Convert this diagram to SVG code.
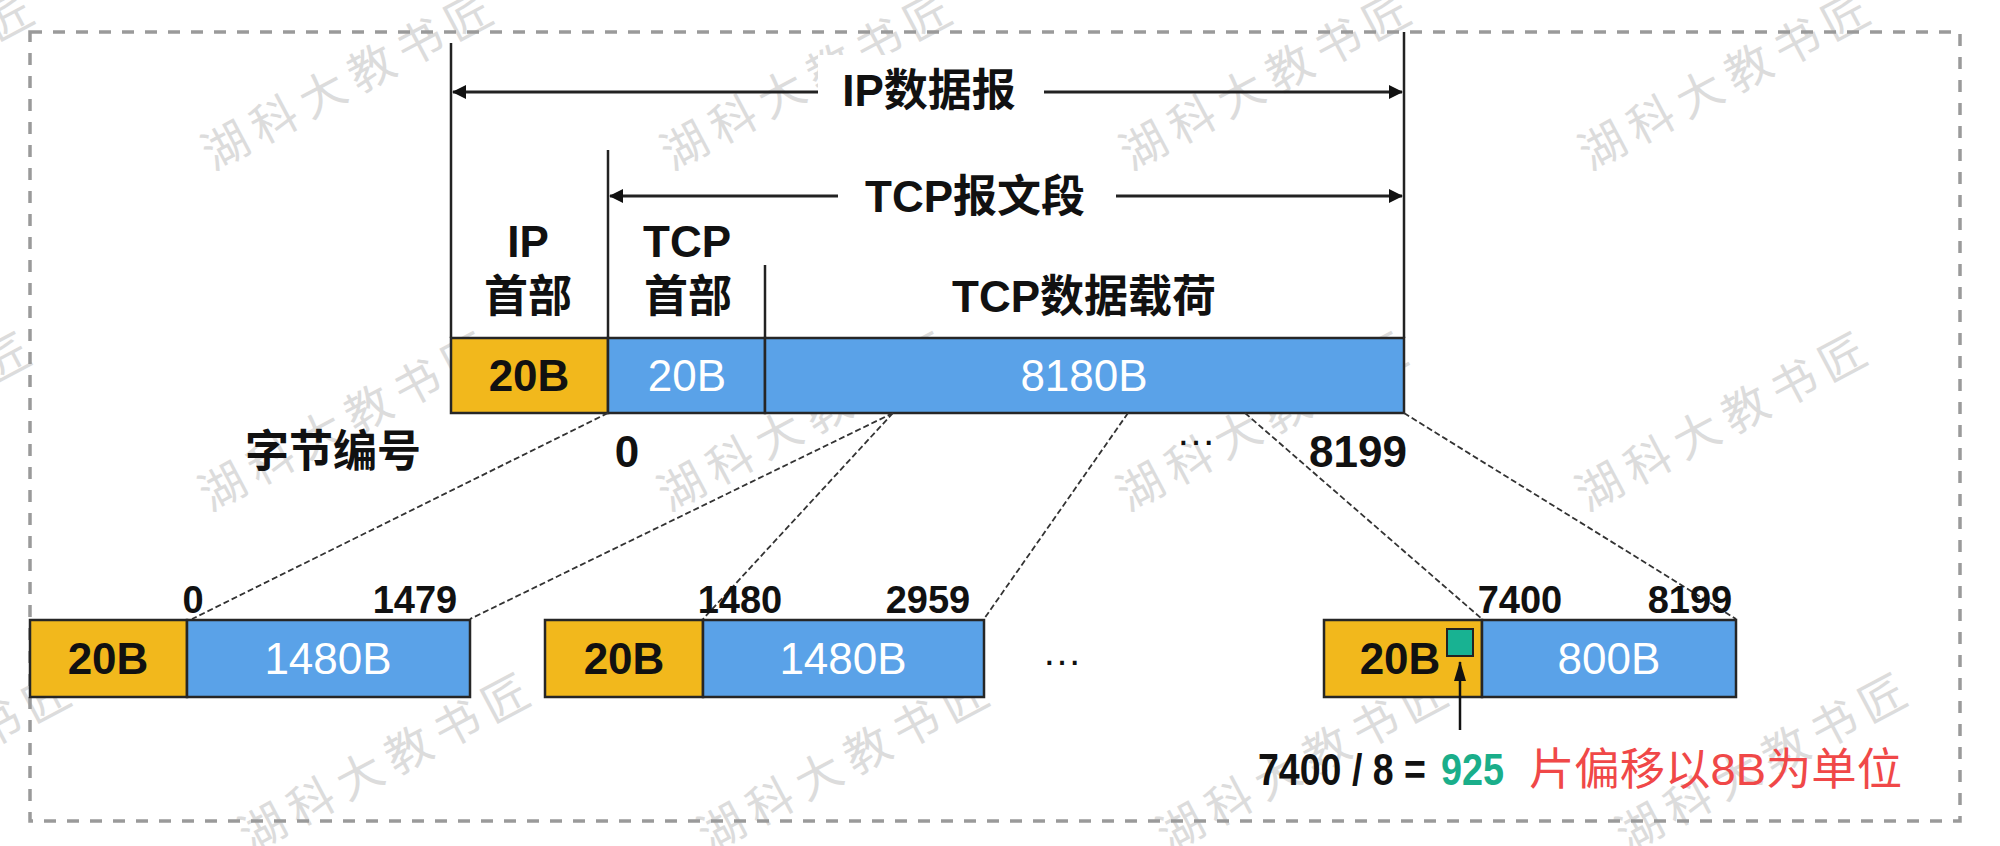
<svg xmlns="http://www.w3.org/2000/svg" width="2000" height="846" viewBox="0 0 2000 846">
<style>
.wm{font-family:"Noto Sans CJK SC","Noto Sans",sans-serif;font-size:46px;letter-spacing:9px;fill:#dcdcdc}
.t{font-family:"Liberation Sans","Noto Sans CJK SC",sans-serif;font-weight:bold;font-size:44px;fill:#111;text-anchor:middle}
.w{font-family:"Liberation Sans","Noto Sans CJK SC",sans-serif;font-size:44px;fill:#fff;text-anchor:middle}
.n{font-family:"Liberation Sans",sans-serif;font-weight:bold;font-size:38px;fill:#111;text-anchor:middle}
.or{fill:#F2B81C;stroke:#262626;stroke-width:2.5}
.bl{fill:#5AA2E8;stroke:#262626;stroke-width:2.5}
.vl{stroke:#222;stroke-width:2.5;fill:none}
.dim{stroke:#222;stroke-width:3;fill:none;marker-start:url(#ah);marker-end:url(#ah)}
.dl{stroke:#333;stroke-width:1.8;stroke-dasharray:6 3;fill:none}
</style>
<defs>
<marker id="ah" viewBox="0 0 14 14" refX="13" refY="7" markerWidth="14" markerHeight="14" markerUnits="userSpaceOnUse" orient="auto-start-reverse"><path d="M0,0 L14,7 L0,14 z" fill="#111"/></marker>
<marker id="up" viewBox="0 0 12 20" refX="6" refY="1" markerWidth="12" markerHeight="20" markerUnits="userSpaceOnUse" orient="0"><path d="M6,0 L12,20 L0,20 z" fill="#111"/></marker>
</defs>
<rect width="2000" height="846" fill="#fff"/>
<g id="watermark">
<text class="wm" transform="translate(-246,171) rotate(-28)">湖科大教书匠</text>
<text class="wm" transform="translate(213,171) rotate(-28)">湖科大教书匠</text>
<text class="wm" transform="translate(672,171) rotate(-28)">湖科大教书匠</text>
<text class="wm" transform="translate(1131,171) rotate(-28)">湖科大教书匠</text>
<text class="wm" transform="translate(1590,171) rotate(-28)">湖科大教书匠</text>
<text class="wm" transform="translate(-249,512) rotate(-28)">湖科大教书匠</text>
<text class="wm" transform="translate(210,512) rotate(-28)">湖科大教书匠</text>
<text class="wm" transform="translate(669,512) rotate(-28)">湖科大教书匠</text>
<text class="wm" transform="translate(1128,512) rotate(-28)">湖科大教书匠</text>
<text class="wm" transform="translate(1587,512) rotate(-28)">湖科大教书匠</text>
<text class="wm" transform="translate(-209,853) rotate(-28)">湖科大教书匠</text>
<text class="wm" transform="translate(250,853) rotate(-28)">湖科大教书匠</text>
<text class="wm" transform="translate(709,853) rotate(-28)">湖科大教书匠</text>
<text class="wm" transform="translate(1168,853) rotate(-28)">湖科大教书匠</text>
<text class="wm" transform="translate(1627,853) rotate(-28)">湖科大教书匠</text>
</g>
<g id="frame">
<rect x="30" y="32" width="1930" height="789" fill="none" stroke="#9a9a9a" stroke-width="3.5" stroke-dasharray="12 11"/>
</g>
<g id="ip-datagram-dim">
<line class="vl" x1="451" y1="43" x2="451" y2="338"/>
<line class="vl" x1="1404" y1="32" x2="1404" y2="338"/>
<line class="dim" x1="453" y1="92" x2="1402" y2="92"/>
<rect x="818" y="55" width="226" height="72" fill="#fff"/>
<text class="t" x="929" y="106">IP数据报</text>
</g>
<g id="tcp-segment-dim">
<line class="vl" x1="608" y1="150" x2="608" y2="338"/>
<line class="dim" x1="610" y1="196" x2="1402" y2="196"/>
<rect x="838" y="160" width="278" height="72" fill="#fff"/>
<text class="t" x="975" y="212">TCP报文段</text>
</g>
<g id="ip-header">
<text class="t" x="528" y="257">IP</text>
<text class="t" x="528" y="312">首部</text>
<rect class="or" x="451" y="338" width="157" height="75"/>
<text class="t" x="529" y="391">20B</text>
</g>
<g id="tcp-header">
<line class="vl" x1="765" y1="265" x2="765" y2="338"/>
<text class="t" x="687" y="257">TCP</text>
<text class="t" x="688" y="312">首部</text>
<rect class="bl" x="608" y="338" width="157" height="75"/>
<text class="w" x="687" y="391">20B</text>
</g>
<g id="tcp-payload">
<text class="t" x="1084" y="312">TCP数据载荷</text>
<rect class="bl" x="765" y="338" width="639" height="75"/>
<text class="w" x="1084" y="391">8180B</text>
</g>
<g id="byte-numbers">
<text class="t" x="333" y="467">字节编号</text>
<text class="t" x="627" y="467">0</text>
<text class="t" x="1196" y="445" style="font-weight:normal;font-size:40px">…</text>
<text class="t" x="1358" y="467">8199</text>
</g>
<g id="connectors">
<line class="dl" x1="608" y1="413" x2="192" y2="619"/>
<line class="dl" x1="893" y1="413" x2="470" y2="619"/>
<line class="dl" x1="893" y1="413" x2="703" y2="619"/>
<line class="dl" x1="1128" y1="413" x2="984" y2="619"/>
<line class="dl" x1="1245" y1="413" x2="1482" y2="619"/>
<line class="dl" x1="1404" y1="413" x2="1736" y2="619"/>
</g>
<g id="fragment-1">
<rect class="or" x="30" y="620" width="157" height="77"/>
<rect class="bl" x="187" y="620" width="283" height="77"/>
<text class="t" x="108" y="674">20B</text>
<text class="w" x="328" y="674">1480B</text>
<text class="n" x="193" y="613">0</text>
<text class="n" x="415" y="613">1479</text>
</g>
<g id="fragment-2">
<rect class="or" x="545" y="620" width="158" height="77"/>
<rect class="bl" x="703" y="620" width="281" height="77"/>
<text class="t" x="624" y="674">20B</text>
<text class="w" x="843" y="674">1480B</text>
<text class="n" x="740" y="613">1480</text>
<text class="n" x="928" y="613">2959</text>
</g>
<text class="t" x="1062" y="665" style="font-weight:normal;font-size:40px">…</text>
<g id="fragment-3">
<rect class="or" x="1324" y="620" width="158" height="77"/>
<rect class="bl" x="1482" y="620" width="254" height="77"/>
<text class="t" x="1400" y="674">20B</text>
<text class="w" x="1609" y="674">800B</text>
<text class="n" x="1520" y="613">7400</text>
<text class="n" x="1690" y="613">8199</text>
<rect x="1447" y="629" width="26" height="27" fill="#18B292" stroke="#222" stroke-width="2"/>
</g>
<g id="annotation">
<line x1="1460" y1="730" x2="1460" y2="662" stroke="#111" stroke-width="2.5" marker-end="url(#up)"/>
<text x="1258" y="785" textLength="168" lengthAdjust="spacingAndGlyphs" style="font-family:'Liberation Sans',sans-serif;font-weight:bold;font-size:44px;fill:#111">7400 / 8 =</text>
<text x="1441" y="785" textLength="63" lengthAdjust="spacingAndGlyphs" style="font-family:'Liberation Sans',sans-serif;font-weight:bold;font-size:44px;fill:#1AAE8A">925</text>
<text x="1529" y="785" textLength="373" lengthAdjust="spacingAndGlyphs" style="font-family:'Liberation Sans','Noto Sans CJK SC',sans-serif;font-size:44px;fill:#F04848">片偏移以8B为单位</text>
</g>
</svg>
